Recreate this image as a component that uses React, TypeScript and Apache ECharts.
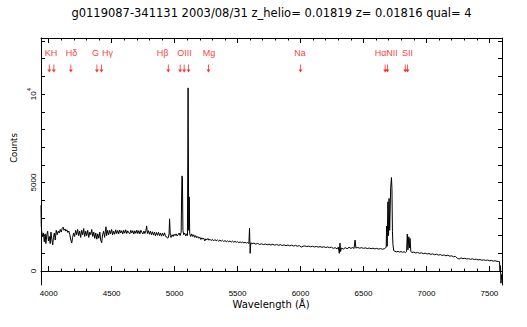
import React, { useEffect, useRef } from "react";
import * as echarts from "echarts";

const TITLE = "g0119087-341131 2003/08/31 z_helio= 0.01819 z= 0.01816 qual= 4";
const X_NAME = "Wavelength (Å)";
const Y_NAME = "Counts";

const X_MIN = 3939;
const X_MAX = 7600;
const Y_MIN = -790;
const Y_MAX = 13170;

const xMajorTicks = [4000, 4500, 5000, 5500, 6000, 6500, 7000, 7500];
const yMajorTicks = [0, 5000, 10000];

// spectrum (wavelength in Å, counts)
const wavelengths = [
  3939, 3941, 3944, 3952, 3958, 3965, 3972, 3978, 3985, 3992, 3998, 4005, 4012, 4018, 4025, 4032, 4038, 4045, 4052, 4060,
  4068, 4076, 4084, 4092, 4100, 4108, 4115, 4122, 4130, 4137, 4144, 4152, 4160, 4168, 4176, 4183, 4190, 4198,
  4206, 4214, 4222, 4230, 4238, 4246, 4254, 4262, 4270, 4278, 4286, 4294, 4302, 4310, 4318, 4326, 4334, 4342, 4350, 4358,
  4366, 4374, 4382, 4390, 4398, 4406, 4413, 4421, 4428, 4436, 4444, 4450, 4455, 4460, 4468, 4476, 4484, 4492, 4500, 4508,
  4516, 4524, 4532, 4540, 4548, 4556, 4564, 4572, 4580, 4588, 4596, 4604, 4612, 4620, 4628, 4636, 4644, 4652, 4660, 4668,
  4676, 4684, 4692, 4700, 4708, 4716, 4724, 4732, 4740, 4748, 4756, 4764, 4772, 4778, 4784, 4792, 4800, 4808, 4816, 4824,
  4832, 4840, 4848, 4856, 4864, 4872, 4880, 4888, 4896, 4904, 4912, 4920, 4928, 4936, 4944, 4950, 4956, 4960, 4966,
  4972, 4980, 4988, 4996, 5004, 5012, 5020, 5028, 5036, 5044, 5052, 5058, 5062, 5066, 5072, 5080, 5088, 5096, 5102, 5107,
  5112, 5116, 5120, 5128,
  5136, 5144, 5152, 5160, 5168, 5176, 5184, 5192, 5200, 5208, 5216, 5224, 5232, 5240, 5248, 5256, 5264, 5272, 5280, 5290,
  5300, 5310, 5320, 5330, 5340, 5350, 5360, 5370, 5380, 5390, 5400, 5410, 5420, 5430, 5440, 5450, 5460, 5470, 5480, 5490,
  5500, 5510, 5520, 5530, 5540, 5550, 5560, 5570, 5580, 5590, 5595, 5600, 5605,
  5615, 5630, 5645, 5660, 5675, 5690, 5705, 5720, 5735, 5750, 5765, 5780, 5795, 5810, 5825, 5840, 5855, 5870, 5885, 5900,
  5915, 5930, 5945, 5960, 5975, 5990, 6005, 6020, 6035, 6050, 6065, 6080, 6095, 6110, 6125, 6140, 6155, 6170, 6185, 6200,
  6215, 6230, 6245, 6260, 6275, 6290, 6300, 6308, 6313, 6318, 6325, 6340, 6355, 6370, 6385, 6400, 6415, 6425, 6433, 6440,
  6455, 6470, 6485, 6500, 6515, 6530, 6545, 6560, 6575, 6590, 6605, 6620, 6635, 6650, 6665, 6675,
  6680, 6684, 6688, 6694, 6699, 6703, 6708, 6716, 6722, 6726, 6730, 6734, 6740,
  6750, 6762, 6774, 6786, 6798, 6810, 6822, 6834, 6842, 6848, 6853, 6860, 6865, 6870, 6876, 6885,
  6900, 6915, 6930, 6945, 6960, 6975, 6990, 7005, 7020, 7035, 7050, 7065, 7080, 7095, 7110, 7125, 7140, 7155, 7170, 7185,
  7200, 7215, 7230, 7245, 7260, 7275, 7290, 7305, 7320, 7335, 7350, 7365, 7380, 7395, 7410, 7425, 7440, 7455, 7470, 7485,
  7500, 7515, 7530, 7545, 7560, 7570, 7580, 7584, 7588, 7592, 7596, 7599,
];

const counts = [
  3720, 2600, 2250, 1950, 2150, 1650, 2100, 1550, 2050, 2250, 1700, 1950, 1550, 2200, 1800, 1470, 1900, 2150, 1750, 2300,
  2050, 2250, 2150, 2350, 2200, 2420, 2480, 2300, 2380, 2250, 2330, 2180, 2260, 2050, 1750, 1580, 1900, 2150,
  1950, 2300, 2050, 2350, 2000, 2250, 1900, 2300, 2050, 2400, 1950, 2250, 2000, 2300, 1900, 2200, 2050, 2350, 1950, 2200,
  1850, 2150, 1800, 2100, 1850, 2200, 1750, 1600, 2050, 2250, 1900, 2250, 2500, 2000, 2300, 2050, 2300, 2100, 2350, 2050,
  2250, 2080, 2330, 2120, 2290, 2100, 2320, 2150, 2280, 2090, 2300, 2140, 2330, 2120, 2270, 2160, 2100, 2300, 2150, 2280,
  2090, 2270, 2130, 2310, 2120, 2280, 2100, 2300, 2170, 2090, 2260, 2120, 2280, 2550, 2120, 2280, 2080, 2250, 2050, 2220,
  2030, 2200, 1990, 2180, 2020, 2190, 2000, 2150, 1970, 2140, 1990, 2160, 1960, 1950, 1850, 1900, 2100, 2950, 2000,
  1900, 2050, 1950, 2080, 2000, 2100, 1980, 2050, 2150, 2000, 2200, 5375, 5300, 2300, 2050, 2150, 1980, 2100, 2000, 10350,
  2300, 4190, 2100, 1950,
  2100, 1950, 2050, 1900, 2000, 1880, 1950, 1850, 1920, 1780, 1880, 1800, 1850, 1700, 1820, 1760, 1840, 1740, 1800, 1720,
  1790, 1700, 1780, 1710, 1760, 1690, 1750, 1680, 1740, 1670, 1720, 1660, 1710, 1650, 1700, 1640, 1690, 1630, 1680, 1620,
  1660, 1600, 1650, 1600, 1640, 1590, 1620, 1580, 1610, 1560, 2410, 1000, 1600,
  1540, 1580, 1520, 1560, 1500, 1540, 1490, 1530, 1480, 1520, 1470, 1510, 1460, 1500, 1450, 1490, 1440, 1480, 1430, 1470,
  1420, 1460, 1410, 1450, 1400, 1440, 1350, 1400, 1420, 1380, 1410, 1370, 1400, 1360, 1390, 1350, 1380, 1340, 1370, 1330,
  1360, 1320, 1350, 1280, 1320, 1250, 1350, 1000, 1580, 1100, 1300, 1240, 1320, 1260, 1340, 1280, 1330, 1270, 1750, 1300,
  1330, 1290, 1320, 1280, 1310, 1270, 1300, 1260, 1290, 1250, 1280, 1240, 1270, 1230, 1260, 1300,
  1350, 2540, 1400, 3910, 2000, 4100, 2300, 4700, 5285, 4660, 2220, 1500, 1150,
  1120, 1080, 1110, 1070, 1100, 1060, 1090, 1050, 1100, 2090, 1200, 1935, 1300, 1840, 1100, 1050,
  1070, 1020, 1050, 1000, 1030, 980, 1010, 960, 990, 940, 970, 920, 950, 900, 930, 880, 910, 860, 890, 840,
  860, 800, 830, 720, 680, 740, 700, 720, 680, 700, 660, 690, 650, 670, 630, 650, 610, 630, 600, 620,
  580, 600, 560, 580, 550, 540, 530, -40, 300, -690, -200, -500,
];

// spectral line markers (observed wavelength, Å)
const arrowWaves = [4005, 4041, 4176, 4383, 4419, 4950, 5044, 5076, 5111, 5269, 6000, 6672, 6690, 6832, 6850];
const lineNames = ["KH", "Hδ", "G", "Hγ", "Hβ", "OIII", "Mg", "Na", "Hα", "NII", "SII"];
const lineNameWaves = [4018, 4181, 4372, 4467, 4905, 5079, 5273, 5996, 6635, 6726, 6849];
const ARROW_Y = 11450;
const LABEL_Y = 12320;

function range(a: number, b: number, step: number) {
  const out: number[] = [];
  for (let v = a; v <= b; v += step) out.push(v);
  return out;
}
const xMinorTicks = range(4000, 7600, 100);
const yMinorTicks = range(0, 13000, 1000);

const FONT = "DejaVu Sans";
const TICK_FONT = "Liberation Sans";

export default function App() {
  const ref = useRef<HTMLDivElement>(null);
  useEffect(() => {
    if (!ref.current) return;
    const chart = echarts.init(ref.current, undefined, { renderer: "svg" });
    const axisLine = { show: true, lineStyle: { color: "#000", width: 1 } };
    const baseX = {
      type: "value" as const,
      min: X_MIN,
      max: X_MAX,
      splitLine: { show: false },
      gridIndex: 0,
    };
    const baseY = {
      type: "value" as const,
      min: Y_MIN,
      max: Y_MAX,
      splitLine: { show: false },
      gridIndex: 0,
    };
    chart.setOption({
      animation: false,
      backgroundColor: "#fff",
      grid: { left: 41, top: 38, right: 25, bottom: 42, containLabel: false },
      xAxis: [
        {
          ...baseX,
          position: "bottom",
          axisLine,
          axisTick: { show: true, inside: true, length: 5, customValues: xMajorTicks, lineStyle: { color: "#000" } },
          axisLabel: {
            show: true,
            customValues: xMajorTicks,
            margin: 4,
            color: "#000",
            fontSize: 8,
            fontFamily: TICK_FONT,
            formatter: (v: number) => String(v),
          },
        },
        {
          ...baseX,
          position: "bottom",
          axisLine: { show: false },
          axisTick: { show: true, inside: true, length: 2.5, customValues: xMinorTicks, lineStyle: { color: "#000" } },
          axisLabel: { show: false },
        },
        {
          ...baseX,
          position: "top",
          axisLine,
          axisTick: { show: true, inside: true, length: 5, customValues: xMajorTicks, lineStyle: { color: "#000" } },
          axisLabel: { show: false },
        },
        {
          ...baseX,
          position: "top",
          axisLine: { show: false },
          axisTick: { show: true, inside: true, length: 2.5, customValues: xMinorTicks, lineStyle: { color: "#000" } },
          axisLabel: { show: false },
        },
      ],
      yAxis: [
        {
          ...baseY,
          position: "left",
          axisLine,
          axisTick: { show: true, inside: true, length: 4, customValues: yMinorTicks, lineStyle: { color: "#000" } },
          axisLabel: {
            show: true,
            customValues: yMajorTicks,
            rotate: 90,
            margin: 4,
            color: "#000",
            fontSize: 8,
            fontFamily: TICK_FONT,
            formatter: (v: number) => (v === 10000 ? "{b|10}{s|4}" : "{b|" + v + "}"),
            rich: {
              b: { fontSize: 8, fontFamily: TICK_FONT, color: "#000", lineHeight: 11, verticalAlign: "bottom" },
              s: { fontSize: 6, fontFamily: TICK_FONT, color: "#000", lineHeight: 11, verticalAlign: "top" },
            },
          },
        },
        {
          ...baseY,
          position: "right",
          axisLine,
          axisTick: { show: true, inside: true, length: 4, customValues: yMinorTicks, lineStyle: { color: "#000" } },
          axisLabel: { show: false },
        },
      ],
      series: [
        {
          type: "line",
          xAxisIndex: 0,
          yAxisIndex: 0,
          data: wavelengths.map((w, i) => [w, counts[i]]),
          symbol: "none",
          lineStyle: { color: "#000", width: 1 },
          silent: true,
          z: 3,
        },
        {
          type: "scatter",
          xAxisIndex: 0,
          yAxisIndex: 0,
          data: arrowWaves.map((w) => [w, ARROW_Y]),
          symbol: "path://M4,0 L6,0 L6,10 L10,10 L5,16 L0,10 L4,10 Z",
          symbolSize: [4, 8],
          itemStyle: { color: "#f00" },
          silent: true,
        },
        {
          type: "scatter",
          xAxisIndex: 0,
          yAxisIndex: 0,
          data: lineNames.map((n, i) => ({ value: [lineNameWaves[i], LABEL_Y], name: n })),
          symbolSize: 0,
          label: {
            show: true,
            position: "inside",
            formatter: (p: any) => p.name,
            color: "#f00",
            fontSize: 9,
            fontFamily: TICK_FONT,
          },
          silent: true,
        },
      ],
      graphic: [
        {
          type: "text",
          x: 271.5,
          y: 13,
          style: {
            text: TITLE,
            fill: "#000",
            font: `11.5px "${FONT}"`,
            textAlign: "center",
            textVerticalAlign: "middle",
          },
        },
        {
          type: "text",
          x: 271,
          y: 304,
          style: {
            text: X_NAME,
            fill: "#000",
            font: `10px "${FONT}"`,
            textAlign: "center",
            textVerticalAlign: "middle",
          },
        },
        {
          type: "text",
          x: 14,
          y: 148,
          rotation: Math.PI / 2,
          style: {
            text: Y_NAME,
            fill: "#000",
            font: `8.5px "${FONT}"`,
            textAlign: "center",
            textVerticalAlign: "middle",
          },
        },
      ],
    });
    return () => chart.dispose();
  }, []);
  return (
    <div
      ref={ref}
      style={{ position: "absolute", left: 0, top: 0, width: 527, height: 327, background: "#fff" }}
    />
  );
}
